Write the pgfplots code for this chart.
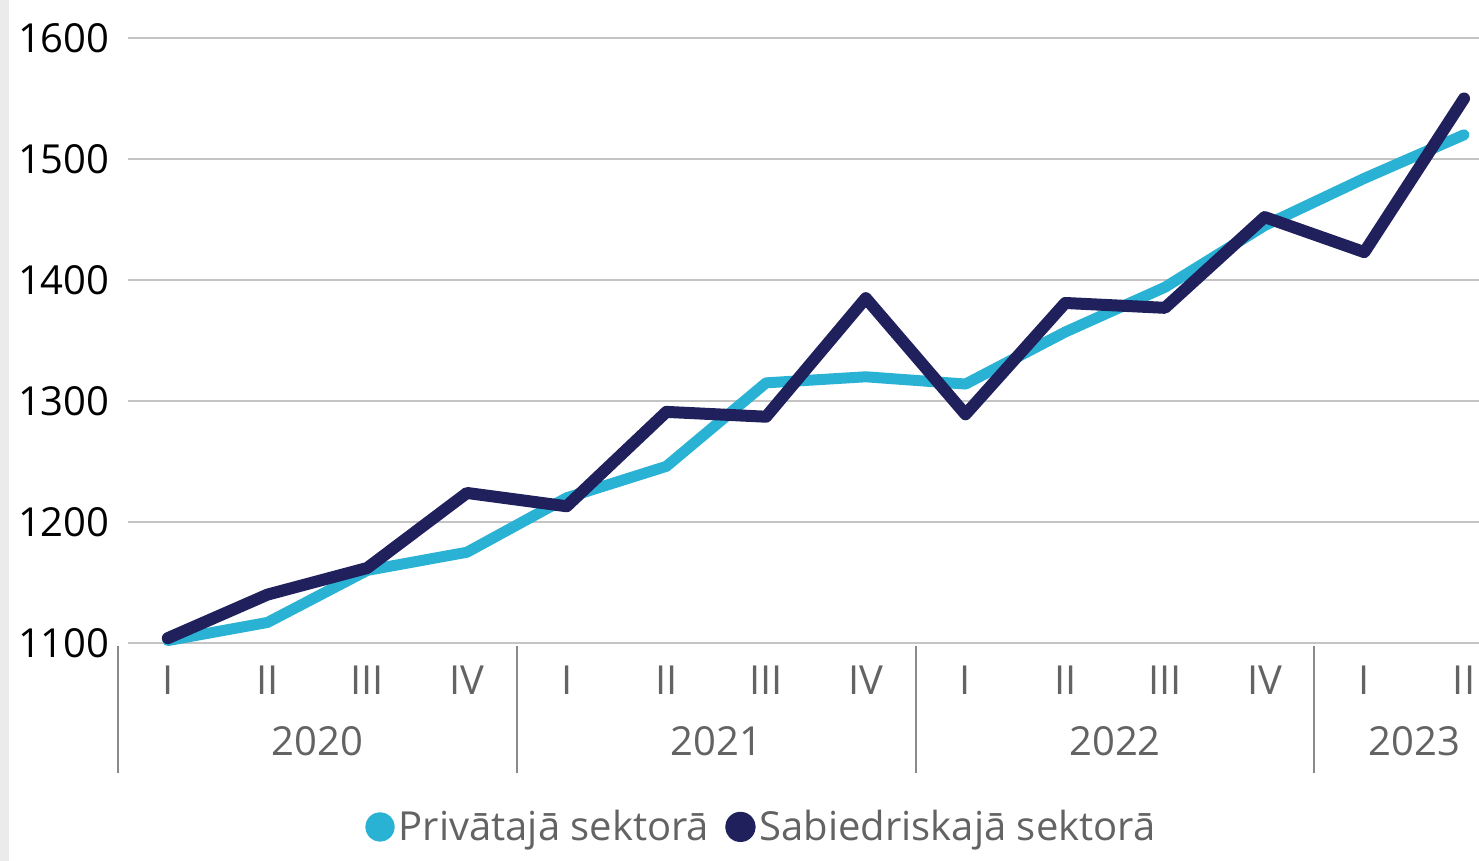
\documentclass[border=0pt]{standalone}
\usepackage{pgfplots}
\pgfplotsset{compat=1.18}
\usepackage{fontspec}
\setmainfont{Open Sans}
\definecolor{priv}{HTML}{29B2D4}
\definecolor{publ}{HTML}{1F205C}
\definecolor{txtgray}{HTML}{636363}
\definecolor{gridgray}{HTML}{C4C4C4}
\definecolor{sepgray}{HTML}{8A8A8A}
\begin{document}
\begin{tikzpicture}
\path[use as bounding box] (-59pt,-109pt) rectangle (680.5pt,321.5pt);
\fill[black!8] (-59pt,-109pt) rectangle (-54.5pt,321.5pt);
\begin{axis}[
  scale only axis,
  width=680.5pt, height=302.5pt,
  xmin=-0.5, xmax=13.15,
  ymin=1100, ymax=1600,
  clip=false,
  axis line style={draw=none},
  major tick length=0pt,
  ytick={1100,1200,...,1600},
  xtick={0,...,13},
  xticklabels={I,II,III,IV,I,II,III,IV,I,II,III,IV,I,II},
  /pgf/number format/assume math mode=true,
  /pgf/number format/1000 sep={},
  font=\fontsize{20}{24}\selectfont,
  yticklabel style={anchor=east, inner sep=0pt, xshift=-4pt, text=black},
  xticklabel style={anchor=center, inner sep=0pt, yshift=-18.5pt, text=txtgray},
  legend columns=2,
  legend style={at={(rel axis cs:0.4735,-0.304)}, anchor=center, draw=none, fill=none,
    text=txtgray, font=\fontsize{20}{24}\selectfont,
    /tikz/every even column/.append style={column sep=6pt},
    inner sep=0pt},
  legend image code/.code={\fill[#1] (3pt,0pt) circle (4.6pt);},
  legend cell align=left,
]
\pgfplotsinvokeforeach{1100,1200,1300,1400,1500,1600}{
  \draw[gridgray, line width=1pt] (axis cs:-0.4,#1) -- (axis cs:13.15,#1);
}
\pgfplotsinvokeforeach{-0.5,3.5,7.5,11.5}{
  \draw[sepgray, line width=1pt] ([yshift=-1.5pt]axis cs:#1,1100) -- ([yshift=-65pt]axis cs:#1,1100);
}
\node[text=txtgray, font=\fontsize{20}{24}\selectfont] at ([yshift=-49pt]axis cs:1.5,1100) {2020};
\node[text=txtgray, font=\fontsize{20}{24}\selectfont] at ([yshift=-49pt]axis cs:5.5,1100) {2021};
\node[text=txtgray, font=\fontsize{20}{24}\selectfont] at ([yshift=-49pt]axis cs:9.5,1100) {2022};
\node[text=txtgray, font=\fontsize{20}{24}\selectfont] at ([yshift=-49pt]axis cs:12.5,1100) {2023};
\addplot[priv, line width=5.5pt, line join=round, line cap=round] coordinates {
 (0,1102) (1,1117) (2,1160) (3,1175) (4,1220) (5,1246) (6,1315)
 (7,1320) (8,1314) (9,1357) (10,1394) (11,1445) (12,1484) (13,1520)};
\addlegendentry{Privātajā sektorā}
\addplot[publ, line width=6pt, line join=round, line cap=round] coordinates {
 (0,1104) (1,1140) (2,1162) (3,1224) (4,1213) (5,1291) (6,1287)
 (7,1385) (8,1289) (9,1381) (10,1377) (11,1452) (12,1423) (13,1550)};
\addlegendentry{Sabiedriskajā sektorā}
\end{axis}
\end{tikzpicture}
\end{document}
